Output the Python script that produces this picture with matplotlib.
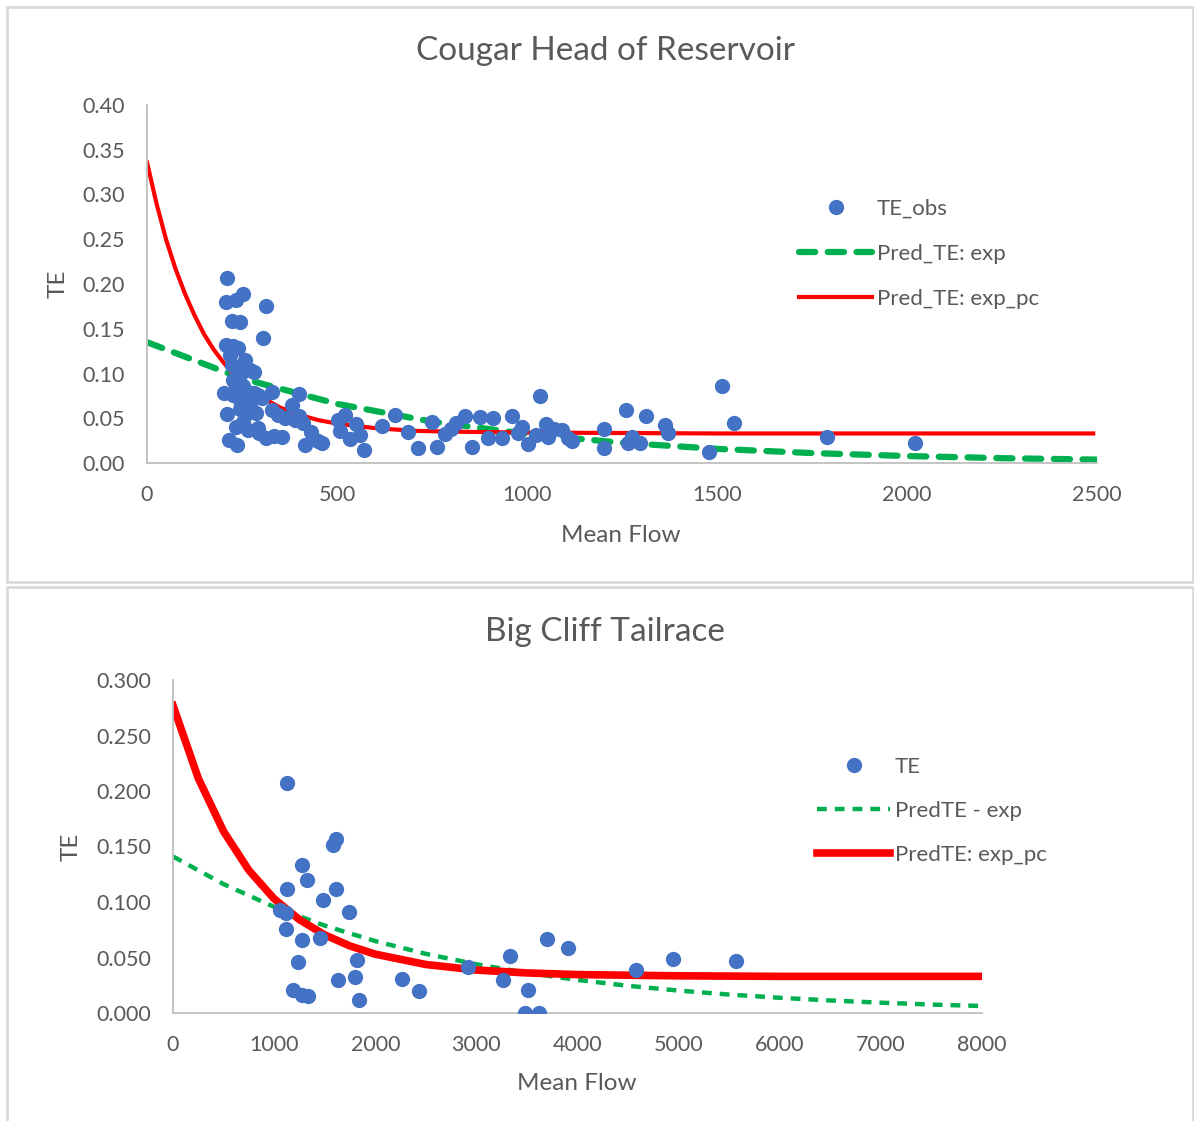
import matplotlib.pyplot as plt
from matplotlib.patches import Rectangle

plt.rcParams["font.family"] = ["Lato", "DejaVu Sans"]

# --- Cougar Head of Reservoir: observed TE (rows of flow and TE line up) ---
cougar_flow = [
    210, 253, 208, 234, 313, 224, 245, 305, 208, 226, 239,
    218, 258, 271, 282, 224, 239, 245, 226, 234, 253,
    266, 282, 292, 303, 329, 400, 245, 271,
    203, 226, 245, 261, 287, 329, 345, 363, 382, 389, 400, 411, 416,
    211, 234, 253, 266, 292, 313, 334, 355, 432, 450, 461,
    503, 508, 521, 534, 550, 561, 571, 618, 653, 687, 713, 750, 763, 784,
    800, 813, 837, 855, 876, 897, 911, 934, 961, 976, 987, 1003, 1024, 1034,
    1050, 1055, 1071, 1092, 1108, 1118, 1203, 1203, 1261, 1266, 1276, 1297,
    1313, 1363, 1371, 1479, 1513, 1545, 1789, 2021, 229, 258, 295, 216, 237,
]
cougar_te = [
    0.207, 0.189, 0.180, 0.182, 0.175, 0.159, 0.158, 0.140, 0.132, 0.131, 0.128,
    0.121, 0.115, 0.104, 0.102, 0.109, 0.106, 0.098, 0.093, 0.087, 0.086,
    0.079, 0.078, 0.076, 0.073, 0.079, 0.077, 0.070, 0.065,
    0.078, 0.076, 0.060, 0.055, 0.056, 0.059, 0.054, 0.050, 0.065, 0.048,
    0.053, 0.045, 0.020,
    0.055, 0.040, 0.046, 0.037, 0.039, 0.028, 0.030, 0.029, 0.035, 0.025, 0.022,
    0.048, 0.036, 0.054, 0.027, 0.044, 0.031, 0.015, 0.041, 0.054, 0.035,
    0.017, 0.046, 0.018, 0.032,
    0.038, 0.045, 0.052, 0.018, 0.051, 0.028, 0.050, 0.028, 0.052, 0.034,
    0.040, 0.021, 0.031, 0.075,
    0.044, 0.029, 0.038, 0.037, 0.028, 0.025, 0.038, 0.017, 0.059, 0.022,
    0.029, 0.022,
    0.052, 0.043, 0.034, 0.012, 0.086, 0.045, 0.029, 0.022, 0.093, 0.066,
    0.034, 0.026, 0.020,
]

# fitted curves
cougar_fit_x = [0, 25, 50, 75, 100, 125, 150, 175, 200, 225, 250, 300, 350,
                400, 450, 500, 600, 700, 800, 1000, 1500, 2490]
cougar_exp_pc = [0.336, 0.290, 0.250, 0.217, 0.189, 0.165, 0.144, 0.127, 0.113,
                 0.100, 0.090, 0.074, 0.062, 0.054, 0.048, 0.044, 0.039, 0.036,
                 0.035, 0.034, 0.033, 0.033]
cougar_exp_x = [0, 250, 500, 750, 1000, 1250, 1500, 1750, 2000, 2250, 2500]
cougar_exp = [0.135, 0.0945, 0.0661, 0.0462, 0.0324, 0.0226, 0.0158, 0.0111,
              0.0078, 0.0054, 0.0038]

# --- Big Cliff Tailrace ---
bigcliff_flow = [
    1127, 1612, 1582, 1276, 1325, 1127, 1612, 1483, 1740, 1058, 1117, 1117,
    1276, 1454, 1236, 1819, 1800, 1632, 2264, 2432, 1187, 1276, 1335, 1839,
    2917, 3332, 3263, 3510, 3481, 3619, 3698, 3906, 4578, 4944, 5567,
]
bigcliff_te = [
    0.207, 0.157, 0.151, 0.133, 0.120, 0.112, 0.112, 0.102, 0.091, 0.093, 0.090,
    0.076, 0.066, 0.068, 0.046, 0.048, 0.032, 0.030, 0.031, 0.020, 0.021, 0.016,
    0.015, 0.012, 0.041, 0.051, 0.030, 0.021, 0.000, 0.000, 0.067, 0.059, 0.039,
    0.049, 0.047,
]
bigcliff_pc_x = [0, 250, 500, 750, 1000, 1250, 1500, 1750, 2000, 2500, 3000,
                 3500, 4000, 5000, 6000, 8000]
bigcliff_exp_pc = [0.277, 0.2115, 0.1636, 0.1286, 0.1029, 0.0841, 0.0704,
                   0.0604, 0.0530, 0.0437, 0.0387, 0.0361, 0.0346, 0.0335,
                   0.033, 0.033]
bigcliff_exp_x = [0, 500, 1000, 1500, 2000, 2500, 3000, 3500, 4000, 4500, 5000,
                  5500, 6000, 6500, 7000, 7500, 8000]
bigcliff_exp = [0.141, 0.1161, 0.0956, 0.0787, 0.0648, 0.0533, 0.0439, 0.0362,
                0.0298, 0.0245, 0.0202, 0.0166, 0.0137, 0.0113, 0.0093, 0.0076,
                0.0063]

W, H = 1194, 1121
blue = "#4472C4"
green = "#00B050"
red = "#FF0000"
txt = "#595959"
frame = "#D9D9D9"

fig = plt.figure(figsize=(W / 100, H / 100), dpi=100)


def fx(px):
    return px / W


def fy(py):
    return 1 - py / H


# panel frames like the Excel chart areas
fig.patches.append(Rectangle((fx(7), fy(582)), fx(1186), 575 / H,
                             transform=fig.transFigure, fill=False,
                             edgecolor=frame, lw=2))
fig.patches.append(Rectangle((fx(7), fy(1125)), fx(1186), 538 / H,
                             transform=fig.transFigure, fill=False,
                             edgecolor=frame, lw=2))


def style_axes(ax):
    for s in ["top", "right"]:
        ax.spines[s].set_visible(False)
    for s in ["left", "bottom"]:
        ax.spines[s].set_color("#BFBFBF")
        ax.spines[s].set_linewidth(1.3)
    ax.tick_params(length=0, labelsize=15.5, labelcolor=txt)
    ax.tick_params(axis="x", pad=16)
    ax.tick_params(axis="y", pad=16)


# --- Top: Cougar ---
ax1 = fig.add_axes([fx(147), fy(463), fx(950), 358 / H])
ax1.plot(cougar_exp_x, cougar_exp, color=green, lw=4.5, dashes=(2.6, 2.0),
         dash_capstyle="round", label="Pred_TE: exp", zorder=2)
ax1.plot(cougar_fit_x, cougar_exp_pc, color=red, lw=3, label="Pred_TE: exp_pc",
         zorder=2)
ax1.plot(cougar_flow, cougar_te, "o", color=blue, ms=11, mec="none",
         label="TE_obs", zorder=3)
ax1.set_xlim(0, 2500)
ax1.set_ylim(0, 0.40)
ax1.set_xticks(range(0, 2501, 500))
ax1.set_yticks([i * 0.05 for i in range(9)])
ax1.set_yticklabels([f"{i * 0.05:.2f}" for i in range(9)])
style_axes(ax1)
h, l = ax1.get_legend_handles_labels()
ax1.legend([h[2], h[0], h[1]], [l[2], l[0], l[1]], loc="center left",
           bbox_to_anchor=(fx(799), fy(254)), bbox_transform=fig.transFigure,
           frameon=False, fontsize=16, labelcolor=txt, handlelength=3.3,
           handletextpad=0.2, labelspacing=1.12, borderaxespad=0,
           borderpad=0)
fig.text(fx(605), fy(51), "Cougar Head of Reservoir", ha="center", va="center",
         fontsize=24, color=txt)
fig.text(fx(621), fy(535), "Mean Flow", ha="center", va="center", fontsize=17.5,
         color=txt)
fig.text(fx(58), fy(284), "TE", ha="center", va="center", fontsize=17.5,
         color=txt, rotation=90)

# --- Bottom: Big Cliff ---
ax2 = fig.add_axes([fx(173), fy(1013), fx(809), 333 / H])
ax2.plot(bigcliff_exp_x, bigcliff_exp, color=green, lw=3.2, dashes=(2.2, 1.8),
         label="PredTE - exp", zorder=2)
ax2.plot(bigcliff_pc_x, bigcliff_exp_pc, color=red, lw=5.5,
         label="PredTE: exp_pc", zorder=2)
ax2.plot(bigcliff_flow, bigcliff_te, "o", color=blue, ms=11, mec="none",
         label="TE", zorder=3)
ax2.set_xlim(0, 8000)
ax2.set_ylim(0, 0.30)
ax2.set_xticks(range(0, 8001, 1000))
ax2.set_yticks([i * 0.05 for i in range(7)])
ax2.set_yticklabels([f"{i * 0.05:.3f}" for i in range(7)])
style_axes(ax2)
h, l = ax2.get_legend_handles_labels()
ax2.legend([h[2], h[0], h[1]], [l[2], l[0], l[1]], loc="center left",
           bbox_to_anchor=(fx(817), fy(811)), bbox_transform=fig.transFigure,
           frameon=False, fontsize=16, labelcolor=txt, handlelength=3.3,
           handletextpad=0.2, labelspacing=1.08, borderaxespad=0,
           borderpad=0)
fig.text(fx(605), fy(632), "Big Cliff Tailrace", ha="center", va="center",
         fontsize=24, color=txt)
fig.text(fx(577), fy(1083), "Mean Flow", ha="center", va="center",
         fontsize=17.5, color=txt)
fig.text(fx(71), fy(847), "TE", ha="center", va="center", fontsize=17.5,
         color=txt, rotation=90)

plt.savefig("out.png", dpi=100)
